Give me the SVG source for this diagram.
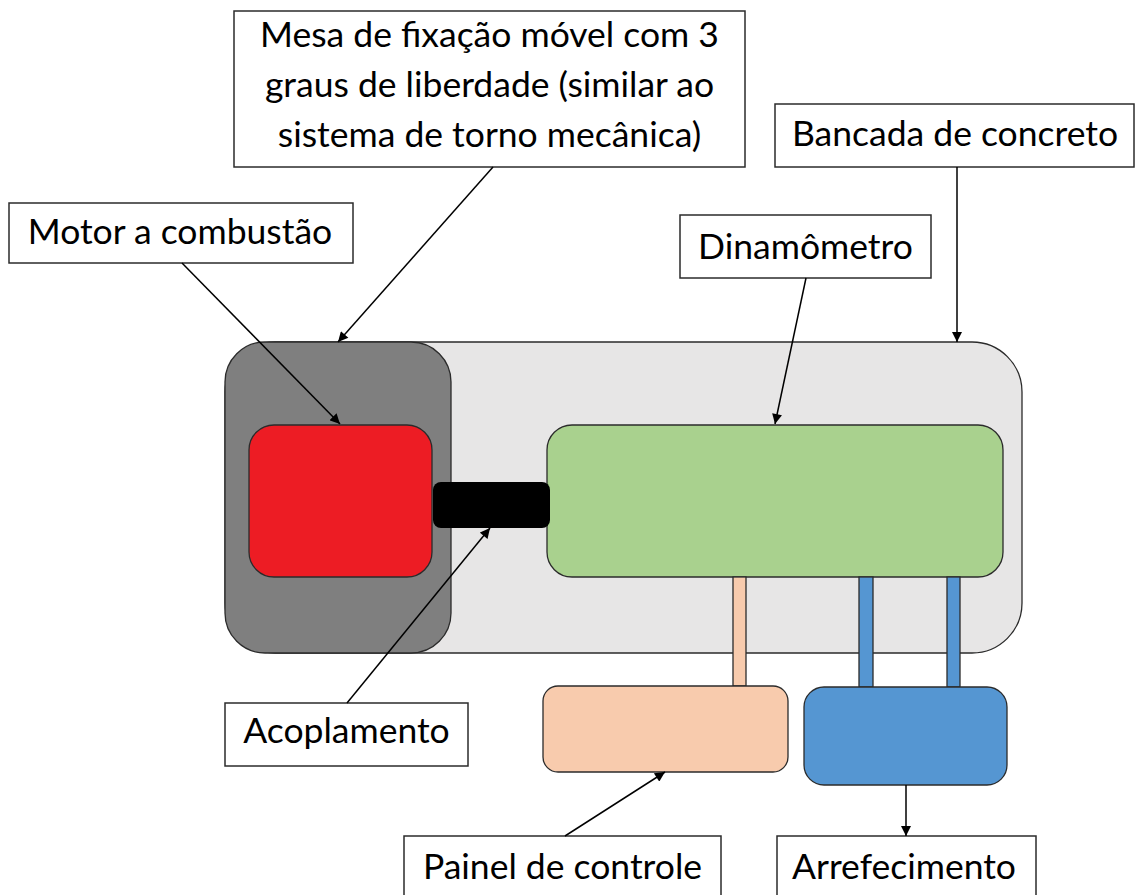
<svg xmlns="http://www.w3.org/2000/svg" width="1135" height="895" viewBox="0 0 1135 895">
  <defs>
    <marker id="arrow" viewBox="0 0 10 10" refX="10" refY="5" markerWidth="11" markerHeight="10" markerUnits="userSpaceOnUse" orient="auto">
      <path d="M0,0 L10,5 L0,10 z" fill="#000"/>
    </marker>
    <style>
      .part { stroke: #2b2b2b; stroke-width: 1.3; }
      .label rect { fill: #fff; stroke: #2b2b2b; stroke-width: 1.5; }
      .label text { font-family: Lato, "Liberation Sans", sans-serif; font-size: 35.5px; fill: #000; text-anchor: middle; }
      .conn line { stroke: #000; stroke-width: 1.5; marker-end: url(#arrow); }
    </style>
  </defs>
  <rect width="1135" height="895" fill="#fff"/>

  <!-- concrete bench -->
  <g id="bancada">
    <rect class="part" x="225" y="342" width="797" height="311" rx="50" ry="50" fill="#e7e6e6"/>
  </g>
  <!-- movable fixing table -->
  <g id="mesa">
    <rect class="part" x="225" y="342" width="226" height="311" rx="40" ry="40" fill="#7f7f7f"/>
  </g>
  <!-- combustion engine -->
  <g id="motor">
    <rect class="part" x="249" y="425" width="183" height="152" rx="25" ry="25" fill="#ed1c24"/>
  </g>
  <!-- dynamometer -->
  <g id="dinamometro">
    <rect class="part" x="547" y="425" width="456" height="152" rx="25" ry="25" fill="#a9d18e"/>
  </g>
  <!-- coupling between engine and dynamometer -->
  <g id="acoplamento">
    <rect x="433" y="482" width="117" height="46" rx="8" ry="8" fill="#000"/>
  </g>

  <!-- links from dynamometer to control panel and cooling -->
  <g id="links">
    <rect class="part" x="733" y="577" width="13" height="109" fill="#f8cbad"/>
    <rect class="part" x="859" y="577" width="14" height="110" fill="#5596d2"/>
    <rect class="part" x="947" y="577" width="13" height="110" fill="#5596d2"/>
  </g>

  <g id="painel">
    <rect class="part" x="543" y="686" width="245" height="86" rx="15" ry="15" fill="#f8cbad"/>
  </g>
  <g id="arrefecimento">
    <rect class="part" x="804" y="687" width="203" height="98" rx="20" ry="20" fill="#5596d2"/>
  </g>

  <!-- callout labels -->
  <g id="label-mesa" class="label">
    <rect x="234" y="11" width="511" height="156"/>
    <text x="489.5" y="47">Mesa de fixação móvel com 3</text>
    <text x="489.5" y="97">graus de liberdade (similar ao</text>
    <text x="489.5" y="147">sistema de torno mecânica)</text>
  </g>
  <g id="label-motor" class="label">
    <rect x="9" y="203" width="344" height="60"/>
    <text x="180" y="244">Motor a combustão</text>
  </g>
  <g id="label-bancada" class="label">
    <rect x="775" y="104" width="359" height="63"/>
    <text x="955" y="146">Bancada de concreto</text>
  </g>
  <g id="label-dinamometro" class="label">
    <rect x="680" y="215" width="251" height="63"/>
    <text x="805.5" y="259">Dinamômetro</text>
  </g>
  <g id="label-acoplamento" class="label">
    <rect x="225" y="703" width="243" height="63"/>
    <text x="346.5" y="743">Acoplamento</text>
  </g>
  <g id="label-painel" class="label">
    <rect x="404" y="836" width="317" height="62"/>
    <text x="562.5" y="879">Painel de controle</text>
  </g>
  <g id="label-arrefecimento" class="label">
    <rect x="777" y="836" width="259" height="62"/>
    <text x="904" y="879">Arrefecimento</text>
  </g>

  <!-- callout connectors -->
  <g id="connectors" class="conn">
    <line x1="493" y1="167" x2="338" y2="342"/>
    <line x1="182" y1="263" x2="340" y2="424"/>
    <line x1="957" y1="167" x2="957" y2="342"/>
    <line x1="806" y1="278" x2="775" y2="424"/>
    <line x1="347" y1="703" x2="490" y2="528"/>
    <line x1="565" y1="836" x2="665" y2="772"/>
    <line x1="906" y1="785" x2="906" y2="836"/>
  </g>
</svg>
